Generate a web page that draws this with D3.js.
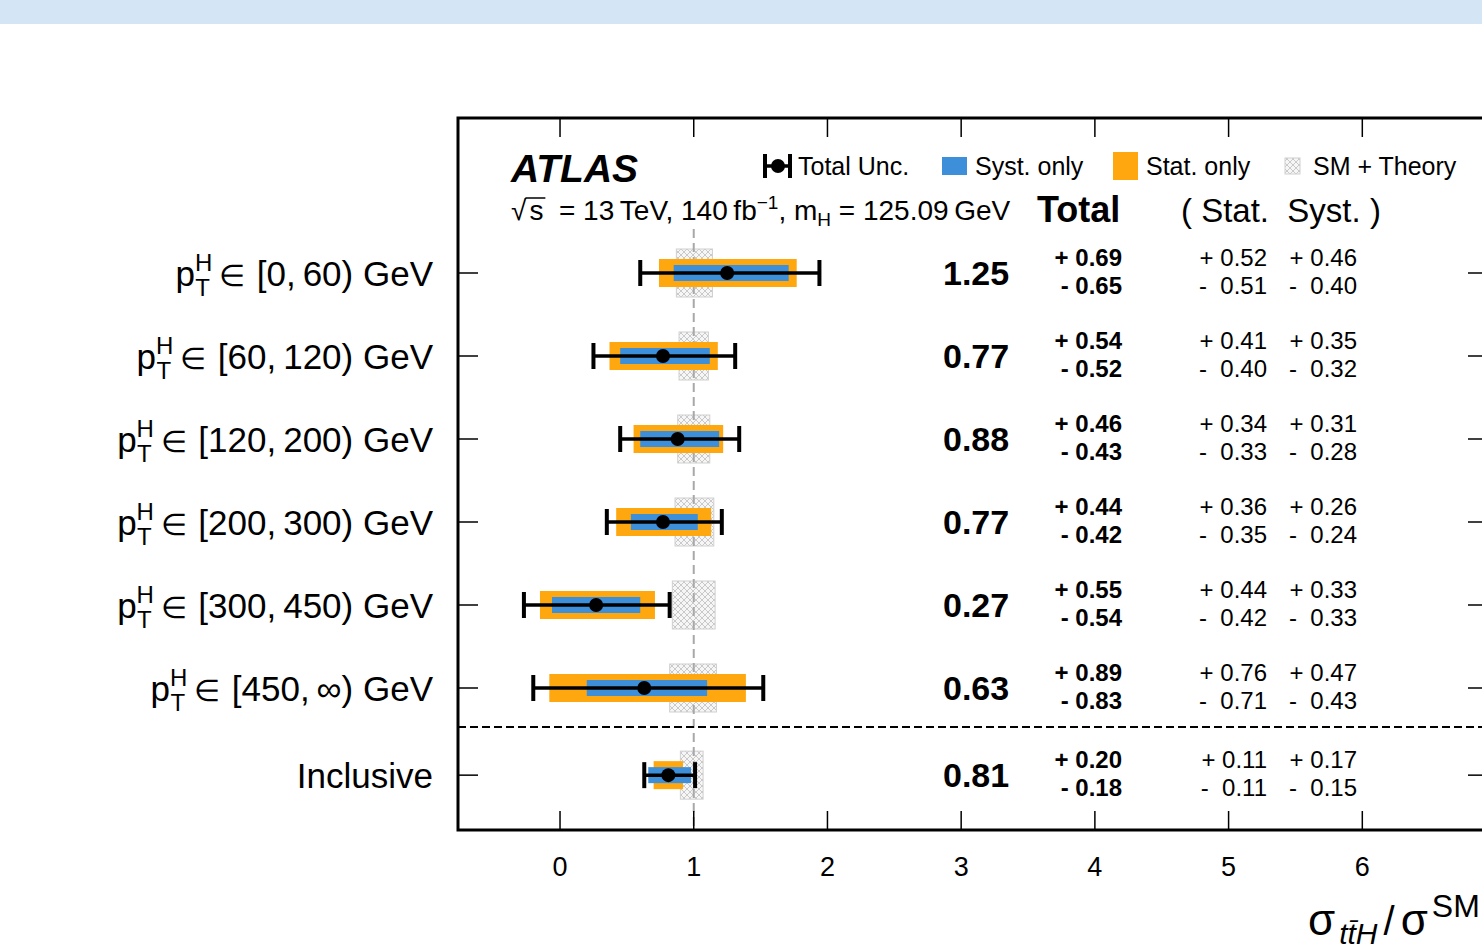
<!DOCTYPE html>
<html>
<head>
<meta charset="utf-8">
<script src="https://cdn.jsdelivr.net/npm/d3@7"></script>
<style>
	body { margin: 0; background: #fff; }
	text { font-family: "Liberation Sans", Arial, Helvetica, sans-serif; fill: #000; }
</style>
</head>
<body>
<div class="chart"></div>
<script>
// pT bins and measured signal strengths
const bins = ['[0, 60)', '[60, 120)', '[120, 200)', '[200, 300)', '[300, 450)', '[450, \u221e)', 'Inclusive'];
const mu = [1.25, 0.77, 0.88, 0.77, 0.27, 0.63, 0.81];
const totUp = [0.69, 0.54, 0.46, 0.44, 0.55, 0.89, 0.20];
const totDn = [0.65, 0.52, 0.43, 0.42, 0.54, 0.83, 0.18];
const statUp = [0.52, 0.41, 0.34, 0.36, 0.44, 0.76, 0.11];
const statDn = [0.51, 0.40, 0.33, 0.35, 0.42, 0.71, 0.11];
const systUp = [0.46, 0.35, 0.31, 0.26, 0.33, 0.47, 0.17];
const systDn = [0.40, 0.32, 0.28, 0.24, 0.33, 0.43, 0.15];
// SM prediction (=1) with theory uncertainty
const thUp = [0.14, 0.11, 0.12, 0.15, 0.16, 0.17, 0.07];
const thDn = [0.13, 0.11, 0.12, 0.14, 0.16, 0.18, 0.10];
const xTicks = [0, 1, 2, 3, 4, 5, 6];

const width = 1482;
const height = 952;
const orange = '#ffa70f';
const blue = '#3d8fda';

const data = bins.map((b, i) => ({
	bin: b, mu: mu[i],
	totUp: totUp[i], totDn: totDn[i],
	statUp: statUp[i], statDn: statDn[i],
	systUp: systUp[i], systDn: systDn[i],
	thUp: thUp[i], thDn: thDn[i],
	pos: i < 6 ? i : i + 0.05
}));

const svg = d3.select('.chart')
	.append('svg')
	.attr('width', width)
	.attr('height', height);

// hatch for the SM box
const defs = svg.append('defs');
const pat = defs.append('pattern')
	.attr('id', 'hatch')
	.attr('patternUnits', 'userSpaceOnUse')
	.attr('width', 6)
	.attr('height', 6);
pat.append('rect').attr('width', 6).attr('height', 6).attr('fill', '#f6f6f6');
pat.append('path').attr('d', 'M0,0 L6,6 M6,0 L0,6').attr('stroke', '#c4c4c4').attr('stroke-width', 0.9);

// top banner
svg.append('rect').attr('x', 0).attr('y', 0).attr('width', width).attr('height', 24).attr('fill', '#d4e6f5');

const frame = { left: 458, right: 1488, top: 118, bottom: 830 };

const x = d3.scaleLinear().domain([-0.763, 6.94]).range([frame.left, frame.right]);
const y = d3.scaleLinear().domain([0, 6]).range([273, 771]);

// SM boxes
svg.selectAll('.sm')
	.data(data)
	.enter()
	.append('rect')
	.attr('x', d => x(1 - d.thDn))
	.attr('width', d => x(1 + d.thUp) - x(1 - d.thDn))
	.attr('y', d => y(d.pos) - 24)
	.attr('height', 48)
	.attr('fill', 'url(#hatch)')
	.attr('stroke', '#d0d0d0')
	.attr('stroke-width', 1);

// SM line
svg.append('line')
	.attr('x1', x(1)).attr('x2', x(1))
	.attr('y1', 229).attr('y2', frame.bottom)
	.attr('stroke', '#a8a8a8')
	.attr('stroke-width', 2)
	.attr('stroke-dasharray', '9,5');

// stat
svg.selectAll('.stat')
	.data(data)
	.enter()
	.append('rect')
	.attr('x', d => x(d.mu - d.statDn))
	.attr('width', d => x(d.mu + d.statUp) - x(d.mu - d.statDn))
	.attr('y', d => y(d.pos) - 14)
	.attr('height', 28)
	.attr('fill', orange);

// syst
svg.selectAll('.syst')
	.data(data)
	.enter()
	.append('rect')
	.attr('x', d => x(d.mu - d.systDn))
	.attr('width', d => x(d.mu + d.systUp) - x(d.mu - d.systDn))
	.attr('y', d => y(d.pos) - 8)
	.attr('height', 16)
	.attr('fill', blue);

// total error bars
const eb = svg.selectAll('.eb')
	.data(data)
	.enter()
	.append('g');
eb.append('line')
	.attr('x1', d => x(d.mu - d.totDn))
	.attr('x2', d => x(d.mu + d.totUp))
	.attr('y1', d => y(d.pos)).attr('y2', d => y(d.pos))
	.attr('stroke', '#000').attr('stroke-width', 3.5);
eb.append('line')
	.attr('x1', d => x(d.mu - d.totDn)).attr('x2', d => x(d.mu - d.totDn))
	.attr('y1', d => y(d.pos) - 13).attr('y2', d => y(d.pos) + 13)
	.attr('stroke', '#000').attr('stroke-width', 4);
eb.append('line')
	.attr('x1', d => x(d.mu + d.totUp)).attr('x2', d => x(d.mu + d.totUp))
	.attr('y1', d => y(d.pos) - 13).attr('y2', d => y(d.pos) + 13)
	.attr('stroke', '#000').attr('stroke-width', 4);
eb.append('circle')
	.attr('cx', d => x(d.mu))
	.attr('cy', d => y(d.pos))
	.attr('r', 7)
	.attr('fill', '#000');

// separator
svg.append('line')
	.attr('x1', frame.left).attr('x2', frame.right)
	.attr('y1', 727).attr('y2', 727)
	.attr('stroke', '#000').attr('stroke-width', 2)
	.attr('stroke-dasharray', '8,4');

// frame and ticks
svg.append('rect')
	.attr('x', frame.left).attr('y', frame.top)
	.attr('width', frame.right - frame.left)
	.attr('height', frame.bottom - frame.top)
	.attr('fill', 'none').attr('stroke', '#000').attr('stroke-width', 3);

svg.selectAll('.ttick')
	.data(xTicks)
	.enter()
	.append('line')
	.attr('x1', d => x(d)).attr('x2', d => x(d))
	.attr('y1', frame.top).attr('y2', frame.top + 19)
	.attr('stroke', '#000').attr('stroke-width', 1.5);
svg.selectAll('.btick')
	.data(xTicks)
	.enter()
	.append('line')
	.attr('x1', d => x(d)).attr('x2', d => x(d))
	.attr('y1', frame.bottom).attr('y2', frame.bottom - 19)
	.attr('stroke', '#000').attr('stroke-width', 1.5);
svg.selectAll('.xlab')
	.data(xTicks)
	.enter()
	.append('text')
	.attr('x', d => x(d))
	.attr('y', 876)
	.attr('text-anchor', 'middle')
	.style('font-size', '27px')
	.text(d => d);

svg.selectAll('.ltick')
	.data(data)
	.enter()
	.append('line')
	.attr('x1', frame.left).attr('x2', frame.left + 20)
	.attr('y1', d => y(d.pos)).attr('y2', d => y(d.pos))
	.attr('stroke', '#000').attr('stroke-width', 1.5);
svg.selectAll('.rtick')
	.data(data)
	.enter()
	.append('line')
	.attr('x1', frame.right).attr('x2', frame.right - 20)
	.attr('y1', d => y(d.pos)).attr('y2', d => y(d.pos))
	.attr('stroke', '#000').attr('stroke-width', 1.5);

// row labels
data.forEach(d => {
	const t = svg.append('text')
		.attr('x', 433)
		.attr('y', y(d.pos) + 13)
		.attr('text-anchor', 'end')
		.style('font-size', '35px')
		.style('white-space', 'pre');
	if (d.bin === 'Inclusive') {
		t.text('Inclusive');
		return;
	}
	t.append('tspan').text('p');
	t.append('tspan').attr('dy', -15).style('font-size', '24px').text('H');
	t.append('tspan').attr('dx', -17).attr('dy', 25).style('font-size', '24px').text('T');
	t.append('tspan').attr('dx', 9).attr('dy', -10).style('font-size', '30px').text('\u2208');
	t.append('tspan').attr('dx', 2).text(' ' + d.bin.replace(', ', ',\u2009') + ' GeV');
});

// numbers
svg.selectAll('.val')
	.data(data)
	.enter()
	.append('text')
	.attr('x', 943)
	.attr('y', d => y(d.pos) + 12)
	.style('font-size', '34px')
	.style('font-weight', 'bold')
	.text(d => d.mu.toFixed(2));

function pm(cls, xr, up, dn, bold) {
	svg.selectAll('.' + cls + 'u')
		.data(data)
		.enter()
		.append('text')
		.attr('x', xr)
		.attr('y', d => y(d.pos) - 7)
		.attr('text-anchor', 'end')
		.style('font-size', '24px')
		.style('font-weight', bold ? 'bold' : 'normal')
		.text(d => '+ ' + d[up].toFixed(2));
	svg.selectAll('.' + cls + 'd')
		.data(data)
		.enter()
		.append('text')
		.attr('x', xr)
		.attr('y', d => y(d.pos) + 21)
		.attr('text-anchor', 'end')
		.style('font-size', '24px')
		.style('font-weight', bold ? 'bold' : 'normal')
		.style('white-space', 'pre')
		.text(d => (bold ? '- ' : '-  ') + d[dn].toFixed(2));
}
pm('tot', 1122, 'totUp', 'totDn', true);
pm('sta', 1267, 'statUp', 'statDn', false);
pm('sys', 1357, 'systUp', 'systDn', false);

// header
svg.append('text')
	.attr('x', 511).attr('y', 182)
	.style('font-size', '39px')
	.style('font-weight', 'bold')
	.style('font-style', 'italic')
	.text('ATLAS');

const en = svg.append('text')
	.attr('x', 511).attr('y', 220)
	.style('font-size', '28px')
	.style('white-space', 'pre');
en.append('tspan').text('\u221a');
en.append('tspan').attr('dx', 3).text('s');
en.append('tspan').text('  = 13\u2009TeV, 140\u2009fb');
en.append('tspan').attr('dy', -11).style('font-size', '19px').text('\u22121');
en.append('tspan').attr('dy', 11).text(', m');
en.append('tspan').attr('dy', 6).style('font-size', '19px').text('H');
en.append('tspan').attr('dy', -6).text(' = 125.09\u2009GeV');
const sNode = en.node();
const s0 = sNode.getStartPositionOfChar(1).x;
const s1 = sNode.getEndPositionOfChar(1).x;
svg.append('line')
	.attr('x1', s0 - 4).attr('x2', s1 + 2)
	.attr('y1', 198).attr('y2', 198)
	.attr('stroke', '#000').attr('stroke-width', 1.5);

svg.append('text')
	.attr('x', 1037).attr('y', 222)
	.style('font-size', '36px')
	.style('font-weight', 'bold')
	.text('Total');
svg.append('text')
	.attr('x', 1181).attr('y', 222)
	.style('font-size', '33px')
	.style('white-space', 'pre')
	.text('( Stat.  Syst. )');

// legend
const ly = 166;
svg.append('line').attr('x1', 765).attr('x2', 790).attr('y1', ly).attr('y2', ly).attr('stroke', '#000').attr('stroke-width', 3.5);
svg.append('line').attr('x1', 765).attr('x2', 765).attr('y1', ly - 12).attr('y2', ly + 12).attr('stroke', '#000').attr('stroke-width', 4);
svg.append('line').attr('x1', 790).attr('x2', 790).attr('y1', ly - 12).attr('y2', ly + 12).attr('stroke', '#000').attr('stroke-width', 4);
svg.append('circle').attr('cx', 778).attr('cy', ly).attr('r', 7).attr('fill', '#000');
svg.append('text').attr('x', 798).attr('y', 175).style('font-size', '25px').text('Total Unc.');

svg.append('rect').attr('x', 942).attr('y', 157).attr('width', 25).attr('height', 18).attr('fill', blue);
svg.append('text').attr('x', 975).attr('y', 175).style('font-size', '25px').text('Syst. only');

svg.append('rect').attr('x', 1113).attr('y', 152).attr('width', 25).attr('height', 28).attr('fill', orange);
svg.append('text').attr('x', 1146).attr('y', 175).style('font-size', '25px').text('Stat. only');

svg.append('rect').attr('x', 1285).attr('y', 158).attr('width', 15).attr('height', 16).attr('fill', 'url(#hatch)').attr('stroke', '#d0d0d0');
svg.append('text').attr('x', 1313).attr('y', 175).style('font-size', '25px').text('SM + Theory');

// x title
const xt = svg.append('text')
	.attr('x', 1308).attr('y', 935)
	.style('font-size', '44px');
xt.append('tspan').text('\u03c3');
xt.append('tspan').attr('dx', 4).attr('dy', 9).style('font-size', '30px').style('font-style', 'italic').text('t\u0074\u0304H');
xt.append('tspan').attr('dx', 6).attr('dy', -9).style('font-size', '40px').text('/');
xt.append('tspan').attr('dx', 6).text('\u03c3');
xt.append('tspan').attr('dx', 4).attr('dy', -18).style('font-size', '32px').text('SM');
</script>
</body>
</html>
